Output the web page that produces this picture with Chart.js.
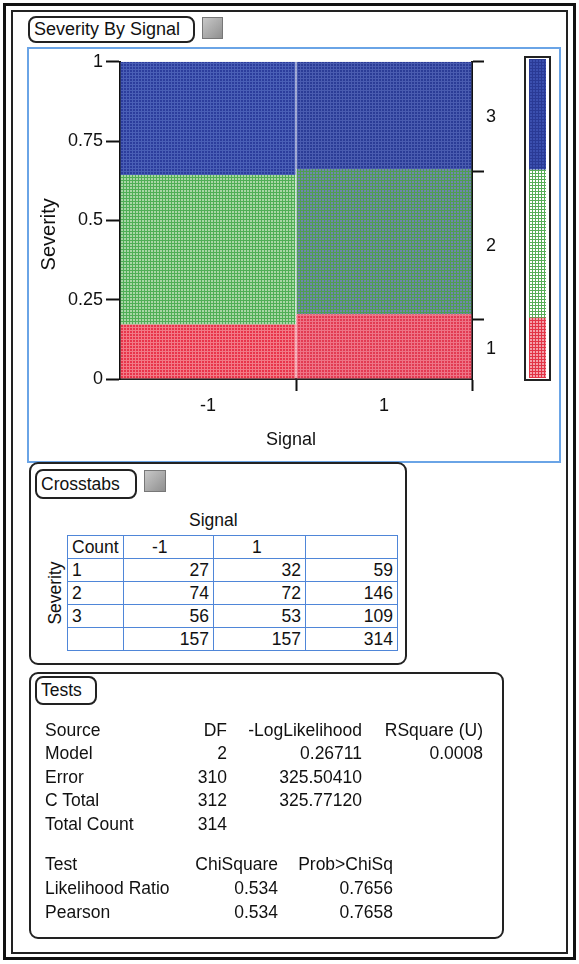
<!DOCTYPE html>
<html>
<head>
<meta charset="utf-8">
<script src="https://cdn.jsdelivr.net/npm/chart.js@4.4.0/dist/chart.umd.min.js"></script>
<style>
  body { margin: 0; width: 579px; height: 964px; background: #fff; position: relative; overflow: hidden;
         font-family: "Liberation Sans", Arial, sans-serif; color: #111; }
  .abs { position: absolute; box-sizing: border-box; }
  .pill { border: 2px solid #222; border-radius: 8px; background: #fff; padding-left: 4px; white-space: nowrap; }
  .btn { background: linear-gradient(135deg, #c8c8c8, #8f8f8f); border: 1px solid #777; }
  table.xt { border-collapse: collapse; font-size: 17.5px; }
  table.xt td { border: 1px solid #4f86d8; height: 23px; padding: 0 4px; box-sizing: border-box; }
  .num { text-align: right; }
  .tests div { position: absolute; font-size: 17.5px; white-space: nowrap; }
</style>
</head>
<body>
<div class="abs" style="left:3px;top:3px;width:573px;height:957px;border:3px solid #111;"></div>
<div class="abs" style="left:11px;top:10px;width:557px;height:944px;border:2px solid #222;"></div>

<div class="abs pill" style="left:28px;top:16px;width:167px;height:27px;font-size:18px;line-height:23px;">Severity By Signal</div>
<div class="abs btn" style="left:202px;top:17px;width:21px;height:22px;"></div>
<div class="abs" style="left:27px;top:47px;width:534px;height:416px;border:2px solid #6aa4e6;"></div>

<div class="abs" style="left:30px;top:48px;width:480px;height:410px;"><canvas id="mosaic"></canvas></div>
<div class="abs" style="left:524px;top:56px;width:27px;height:325px;border:2px solid #222;"></div>
<div class="abs" style="left:529px;top:59px;width:17px;height:319px;"><canvas id="legend"></canvas></div>

<!-- Crosstabs -->
<div class="abs" style="left:29px;top:462px;width:378px;height:203px;border:2px solid #222;border-radius:9px;"></div>
<div class="abs pill" style="left:35px;top:469px;width:102px;height:30px;font-size:17.5px;line-height:26px;">Crosstabs</div>
<div class="abs btn" style="left:144px;top:470px;width:22px;height:22px;"></div>
<div class="abs" style="left:189px;top:510px;font-size:17.5px;">Signal</div>
<div class="abs" style="left:20px;top:583px;width:70px;height:20px;line-height:20px;text-align:center;font-size:17.5px;transform:rotate(-90deg);transform-origin:center;">Severity</div>
<div class="abs" style="left:67px;top:535px;"><table class="xt" id="xt"></table></div>

<!-- Tests -->
<div class="abs" style="left:29px;top:672px;width:475px;height:267px;border:2px solid #222;border-radius:9px;"></div>
<div class="abs pill" style="left:35px;top:676px;width:62px;height:29px;font-size:17.5px;line-height:25px;">Tests</div>
<div class="abs tests" id="tests" style="left:0;top:0;width:579px;height:964px;"></div>

<script>
// counts, rows = Severity, columns = Signal
const signalLevels = ["-1", "1"];
const severityLevels = ["1", "2", "3"];
const countSev1 = [27, 32];
const countSev2 = [74, 72];
const countSev3 = [56, 53];
const colTotals = [157, 157];
const rowTotals = [59, 146, 109];
const grandTotal = 314;
const severityTicks = [0, 0.25, 0.5, 0.75, 1];

const testHeader = ["Source", "DF", "-LogLikelihood", "RSquare (U)"];
const testSources = ["Model", "Error", "C Total", "Total Count"];
const testDF = ["2", "310", "312", "314"];
const testLogLik = ["0.26711", "325.50410", "325.77120", ""];
const testRSquare = ["0.0008", "", "", ""];
const chiHeader = ["Test", "ChiSquare", "Prob>ChiSq"];
const chiTests = ["Likelihood Ratio", "Pearson"];
const chiSquare = ["0.534", "0.534"];
const chiProb = ["0.7656", "0.7658"];

function pattern(base, line, size) {
  const c = document.createElement('canvas');
  c.width = size; c.height = size;
  const g = c.getContext('2d');
  g.fillStyle = base; g.fillRect(0, 0, size, size);
  g.fillStyle = line; g.fillRect(0, 0, size, 1); g.fillRect(0, 0, 1, size);
  return g.createPattern(c, 'repeat');
}

const fills = [
  [pattern('#e8344a', '#f27a86', 3), pattern('#e23a52', '#ee7486', 3)],
  [pattern('#a9d6a6', '#4fae55', 3), pattern('#6f86ae', '#4f9e52', 3)],
  [pattern('#2c3d9c', '#4a5fb6', 3), pattern('#2b3c96', '#4a5cb0', 3)]
];
const legendFills = [
  pattern('#f4a0aa', '#e23446', 3),
  pattern('#ffffff', '#57ad57', 3),
  pattern('#3b4fae', '#2a3a95', 3)
];

const sevCounts = [countSev1, countSev2, countSev3];
const mosaicSets = sevCounts.map((cs, k) => ({
  label: severityLevels[k],
  data: cs.map((c, j) => c / colTotals[j]),
  backgroundColor: fills[k],
  borderWidth: 0,
  barPercentage: 1,
  categoryPercentage: 0.994
}));

// right-hand axis: boundaries of the overall shares and a label in each band
let cum = 0;
const bounds = [0];
rowTotals.forEach(t => { cum += t / grandTotal; bounds.push(cum); });
const rightTicks = [];
bounds.forEach((b, i) => {
  rightTicks.push({ value: b, label: '', mark: i > 0 });
  if (i < severityLevels.length) rightTicks.push({ value: (b + bounds[i + 1]) / 2, label: severityLevels[i], mark: false });
});

const axisFont = { family: '"Liberation Sans", Arial, sans-serif', size: 18 };

new Chart(document.getElementById('mosaic'), {
  type: 'bar',
  data: { labels: signalLevels, datasets: mosaicSets },
  options: {
    responsive: true, maintainAspectRatio: false, animation: false,
    layout: { padding: { top: 12, left: 0, right: 0, bottom: 0 } },
    plugins: { legend: { display: false }, tooltip: { enabled: false } },
    scales: {
      x: {
        stacked: true, offset: true,
        grid: { offset: true, drawOnChartArea: false, tickLength: 12, tickWidth: 2,
                tickColor: ctx => ctx.index === 0 ? 'rgba(0,0,0,0)' : '#111' },
        border: { color: '#222', width: 2 },
        ticks: { color: '#111', font: axisFont, padding: 4 },
        title: { display: true, text: 'Signal  ', color: '#111', font: axisFont, padding: { top: 4, bottom: 7 } },
        afterFit: s => { s.height = 79; }
      },
      y: {
        stacked: true, min: 0, max: 1,
        afterBuildTicks: s => { s.ticks = severityTicks.map(v => ({ value: v })); },
        grid: { drawOnChartArea: false, tickLength: 14, tickWidth: 2, tickColor: '#111' },
        border: { color: '#111', width: 2 },
        ticks: { color: '#111', font: axisFont, padding: 3, autoSkip: false, callback: v => String(v) },
        title: { display: true, text: 'Severity     ', color: '#111', font: { family: axisFont.family, size: 20 }, padding: { top: 7, bottom: 0 } },
        afterFit: s => { s.width = 90; }
      },
      y2: {
        position: 'right', min: 0, max: 1,
        afterBuildTicks: s => { s.ticks = rightTicks.map(t => ({ value: t.value })); },
        grid: { drawOnChartArea: false, tickLength: 12, tickWidth: 2,
                tickColor: ctx => (rightTicks[ctx.index] && rightTicks[ctx.index].mark) ? '#111' : 'rgba(0,0,0,0)' },
        border: { color: '#111', width: 2 },
        ticks: { color: '#111', font: axisFont, padding: 2, autoSkip: false,
                 callback: (v, i) => rightTicks[i].label },
        afterFit: s => { s.width = 38; }
      }
    }
  }
});

new Chart(document.getElementById('legend'), {
  type: 'bar',
  data: {
    labels: [''],
    datasets: rowTotals.map((t, k) => ({
      label: severityLevels[k], data: [t / grandTotal], backgroundColor: legendFills[k],
      borderWidth: 0, barPercentage: 1, categoryPercentage: 1
    }))
  },
  options: {
    responsive: true, maintainAspectRatio: false, animation: false,
    layout: { padding: 0 },
    plugins: { legend: { display: false }, tooltip: { enabled: false } },
    scales: {
      x: { display: false, stacked: true },
      y: { display: false, stacked: true, min: 0, max: 1 }
    }
  }
});

// crosstab table
const xt = document.getElementById('xt');
const colW = [56, 90, 92, 92];
let html = '<tr><td style="width:' + colW[0] + 'px">Count</td>' +
  signalLevels.map((s, j) => '<td style="width:' + colW[j + 1] + 'px;padding-left:' + (j ? 38 : 28) + 'px">' + s + '</td>').join('') +
  '<td style="width:' + colW[3] + 'px"></td></tr>';
sevCounts.forEach((cs, k) => {
  html += '<tr><td>' + severityLevels[k] + '</td>' + cs.map(c => '<td class="num">' + c + '</td>').join('') +
    '<td class="num">' + rowTotals[k] + '</td></tr>';
});
html += '<tr><td></td>' + colTotals.map(c => '<td class="num">' + c + '</td>').join('') + '<td class="num">' + grandTotal + '</td></tr>';
xt.innerHTML = html;

// tests text
const tests = document.getElementById('tests');
function put(text, x, y, right) {
  const d = document.createElement('div');
  d.textContent = text;
  d.style.top = (y - 10) + 'px';
  if (right) d.style.right = (579 - x) + 'px'; else d.style.left = x + 'px';
  tests.appendChild(d);
}
const rowY = [730, 753, 777, 800, 824];
const colRight = [227, 362, 483];
put(testHeader[0], 45, rowY[0]);
testHeader.slice(1).forEach((h, i) => put(h, colRight[i], rowY[0], true));
testSources.forEach((s, i) => {
  put(s, 45, rowY[i + 1]);
  put(testDF[i], colRight[0], rowY[i + 1], true);
  put(testLogLik[i], colRight[1], rowY[i + 1], true);
  put(testRSquare[i], colRight[2], rowY[i + 1], true);
});
const chiY = [864, 888, 912];
const chiRight = [278, 393];
put(chiHeader[0], 45, chiY[0]);
chiHeader.slice(1).forEach((h, i) => put(h, chiRight[i], chiY[0], true));
chiTests.forEach((t, i) => {
  put(t, 45, chiY[i + 1]);
  put(chiSquare[i], chiRight[0], chiY[i + 1], true);
  put(chiProb[i], chiRight[1], chiY[i + 1], true);
});
</script>
</body>
</html>
